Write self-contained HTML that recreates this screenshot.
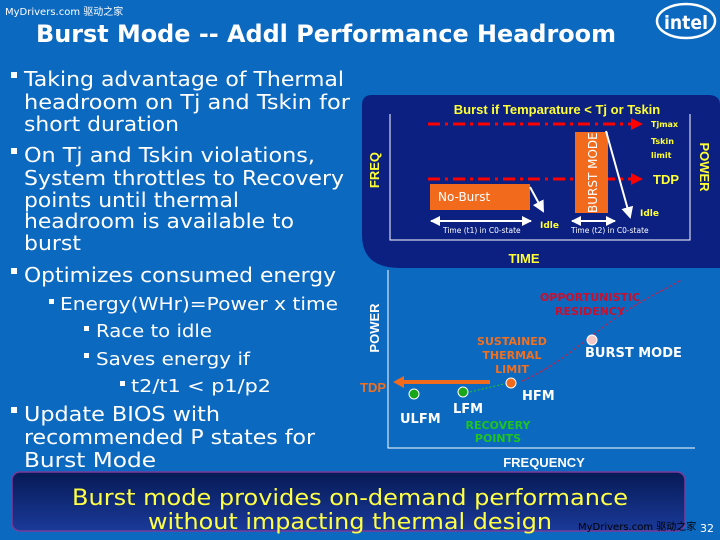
<!DOCTYPE html>
<html><head><meta charset="utf-8"><style>
html,body{margin:0;padding:0;background:#0c69c0;}
svg{display:block;}
text{font-family:"DejaVu Sans","Liberation Sans",sans-serif;}
.b{font-family:"Liberation Sans",sans-serif;font-weight:bold;}
</style></head><body>
<svg width="720" height="540" viewBox="0 0 720 540" xmlns="http://www.w3.org/2000/svg">
<defs>
<linearGradient id="g1" x1="0" y1="0" x2="0" y2="1"><stop offset="0" stop-color="#061a55"/><stop offset="1" stop-color="#1a3a9a"/></linearGradient>
<marker id="ar" markerWidth="6" markerHeight="6" refX="5" refY="3" orient="auto"><path d="M0,0 L6,3 L0,6z" fill="#fff"/></marker>
<marker id="arr" markerWidth="4" markerHeight="4" refX="3" refY="2" orient="auto"><path d="M0,0 L4,2 L0,4z" fill="#f00"/></marker>
<marker id="aw" markerWidth="5" markerHeight="5" refX="4.5" refY="2.5" orient="auto-start-reverse"><path d="M0,0 L5,2.5 L0,5z" fill="#fff"/></marker>
</defs>
<rect width="720" height="540" fill="#0c69c0"/>
<text x="5" y="15" font-size="10" fill="#fff" font-family="Liberation Mono,'WenQuanYi Zen Hei',monospace">MyDrivers.com 驱动之家</text>
<text x="36" y="42" font-size="24" fill="#fff" font-weight="bold" textLength="580" lengthAdjust="spacingAndGlyphs">Burst Mode -- Addl Performance Headroom</text>
<ellipse cx="686" cy="21" rx="29" ry="17" fill="none" stroke="#fff" stroke-width="2.5"/>
<text x="664" y="29" font-size="19" fill="#fff" font-weight="bold" font-family="Liberation Sans,sans-serif" textLength="44" lengthAdjust="spacingAndGlyphs">intel</text>

<g fill="#fff" font-size="20">
<rect x="11" y="72" width="6" height="6"/><rect x="11" y="148" width="6" height="6"/><rect x="11" y="268" width="6" height="6"/><rect x="11" y="407" width="6" height="6"/>
<text x="24" y="86" textLength="320" lengthAdjust="spacingAndGlyphs">Taking advantage of Thermal</text>
<text x="24" y="109" textLength="326" lengthAdjust="spacingAndGlyphs">headroom on Tj and Tskin for</text>
<text x="24" y="131" textLength="155" lengthAdjust="spacingAndGlyphs">short duration</text>
<text x="24" y="162" textLength="291" lengthAdjust="spacingAndGlyphs">On Tj and Tskin violations,</text>
<text x="24" y="185" textLength="320" lengthAdjust="spacingAndGlyphs">System throttles to Recovery</text>
<text x="24" y="207" textLength="215" lengthAdjust="spacingAndGlyphs">points until thermal</text>
<text x="24" y="228" textLength="270" lengthAdjust="spacingAndGlyphs">headroom is available to</text>
<text x="24" y="250" textLength="57" lengthAdjust="spacingAndGlyphs">burst</text>
<text x="24" y="282" textLength="312" lengthAdjust="spacingAndGlyphs">Optimizes consumed energy</text>
<text x="24" y="421" textLength="196" lengthAdjust="spacingAndGlyphs">Update BIOS with</text>
<text x="24" y="444" textLength="291" lengthAdjust="spacingAndGlyphs">recommended P states for</text>
<text x="24" y="467" textLength="132" lengthAdjust="spacingAndGlyphs">Burst  Mode</text>
</g>
<g fill="#fff" font-size="18">
<rect x="49" y="299" width="5" height="5"/><rect x="84" y="326" width="5" height="5"/><rect x="84" y="353" width="5" height="5"/><rect x="120" y="381" width="5" height="5"/>
<text x="60" y="310" textLength="278" lengthAdjust="spacingAndGlyphs">Energy(WHr)=Power x time</text>
<text x="96" y="337" textLength="116" lengthAdjust="spacingAndGlyphs">Race to idle</text>
<text x="96" y="365" textLength="154" lengthAdjust="spacingAndGlyphs">Saves energy if</text>
<text x="131" y="392" textLength="140" lengthAdjust="spacingAndGlyphs">t2/t1 &lt; p1/p2</text>
</g>

<!-- top panel -->
<path d="M372,95 H708 Q720,95 720,105 V268 H400 Q362,268 362,235 V105 Q362,95 372,95z" fill="#0b2080"/>
<path d="M390,114 V240 H690 V114" fill="none" stroke="#fff" stroke-width="1"/>
<text x="557" y="114" text-anchor="middle" class="b" font-size="13" fill="#ffff33">Burst  if Temparature &lt; Tj or Tskin</text>
<line x1="428" y1="124" x2="640" y2="124" stroke="#f00" stroke-width="3" stroke-dasharray="12,5,3,5" marker-end="url(#arr)"/>
<line x1="428" y1="179" x2="640" y2="179" stroke="#f00" stroke-width="3" stroke-dasharray="12,5,3,5" marker-end="url(#arr)"/>
<g class="b" font-size="8" fill="#ffff33"><text x="651" y="127">Tjmax</text><text x="651" y="144">Tskin</text><text x="651" y="158">limit</text>
<text x="540" y="228" font-size="9">Idle</text><text x="640" y="216" font-size="9">Idle</text></g>
<text x="653" y="184" class="b" font-size="13" fill="#ffff33">TDP</text>
<rect x="430" y="184" width="100" height="26" fill="#f26b1d"/>
<text x="438" y="201" font-size="12" fill="#fff" font-family="Liberation Sans,sans-serif">No-Burst</text>
<rect x="575" y="132" width="33" height="81" fill="#f26b1d"/>
<text transform="translate(597,213) rotate(-90)" font-size="12" fill="#fff" font-family="Liberation Sans,sans-serif">BURST MODE</text>
<line x1="530" y1="187" x2="543" y2="211" stroke="#fff" stroke-width="2" marker-end="url(#ar)"/>
<line x1="606" y1="131" x2="630" y2="217" stroke="#fff" stroke-width="2" marker-end="url(#ar)"/>
<line x1="431" y1="221" x2="531" y2="221" stroke="#fff" stroke-width="2" marker-start="url(#aw)" marker-end="url(#aw)"/>
<line x1="572" y1="221" x2="615" y2="221" stroke="#fff" stroke-width="2" marker-start="url(#aw)" marker-end="url(#aw)"/>
<g font-size="7.5" fill="#fff" font-family="Liberation Sans,sans-serif"><text x="443" y="233">Time (t1) in C0-state</text><text x="571" y="233">Time (t2) in C0-state</text></g>
<text transform="translate(379,170) rotate(-90)" text-anchor="middle" class="b" font-size="13" fill="#ffff33">FREQ</text>
<text transform="translate(700,167) rotate(90)" text-anchor="middle" class="b" font-size="13" fill="#ffff33">POWER</text>
<text x="524" y="263" text-anchor="middle" class="b" font-size="13" fill="#ffff33">TIME</text>

<!-- bottom chart -->
<path d="M388,270 V448 H695" fill="none" stroke="#fff" stroke-width="1"/>
<text transform="translate(379,328) rotate(-90)" text-anchor="middle" class="b" font-size="13" fill="#fff">POWER</text>
<text x="544" y="467" text-anchor="middle" class="b" font-size="13" fill="#fff">FREQUENCY</text>
<path d="M522,381 C560,365 590,335 620,315 S665,290 681,280" fill="none" stroke="#c0204a" stroke-width="1.2" stroke-dasharray="3,2"/>
<line x1="470" y1="392" x2="508" y2="383" stroke="#2c2" stroke-width="1" stroke-dasharray="2,2"/>
<line x1="490" y1="382" x2="402" y2="382" stroke="#f26b1d" stroke-width="4"/>
<path d="M393,382 L404,376 L404,388z" fill="#f26b1d"/>
<circle cx="414" cy="394" r="5" fill="#1aa51a" stroke="#fff" stroke-width="1"/>
<circle cx="463" cy="392" r="5" fill="#1aa51a" stroke="#fff" stroke-width="1"/>
<circle cx="511" cy="383" r="5" fill="#f26b1d" stroke="#fff" stroke-width="1"/>
<circle cx="592" cy="340" r="5" fill="#f4c8c8" stroke="#fff" stroke-width="1"/>
<g class="b" font-size="11" text-anchor="middle">
<text x="590" y="301" fill="#c8102e">OPPORTUNISTIC</text><text x="590" y="315" fill="#c8102e">RESIDENCY</text>
<text x="512" y="345" fill="#f07020">SUSTAINED</text><text x="512" y="359" fill="#f07020">THERMAL</text><text x="512" y="373" fill="#f07020">LIMIT</text>
<text x="498" y="429" fill="#1fc41f">RECOVERY</text><text x="498" y="442" fill="#1fc41f">POINTS</text>
</g>
<g class="b" font-size="13" fill="#fff">
<text x="585" y="357">BURST MODE</text><text x="522" y="400">HFM</text><text x="453" y="413">LFM</text><text x="400" y="423">ULFM</text>
</g>
<text x="360" y="392" class="b" font-size="13" fill="#f07020">TDP</text>

<rect x="12" y="472" width="673" height="59" rx="8" fill="url(#g1)" stroke="#7a3a9a" stroke-width="1.5"/>
<g fill="#ffff44" font-size="22" text-anchor="middle" font-family="DejaVu Sans,sans-serif">
<text x="350" y="505" textLength="556" lengthAdjust="spacingAndGlyphs">Burst mode provides on-demand performance</text>
<text x="350" y="529" textLength="404" lengthAdjust="spacingAndGlyphs">without impacting thermal design</text>
</g>
<text x="578" y="530" font-size="10" fill="#000" font-family="Liberation Mono,'WenQuanYi Zen Hei',monospace">MyDrivers.com 驱动之家</text>
<text x="700" y="532" font-size="11" fill="#fff">32</text>
</svg>
</body></html>
